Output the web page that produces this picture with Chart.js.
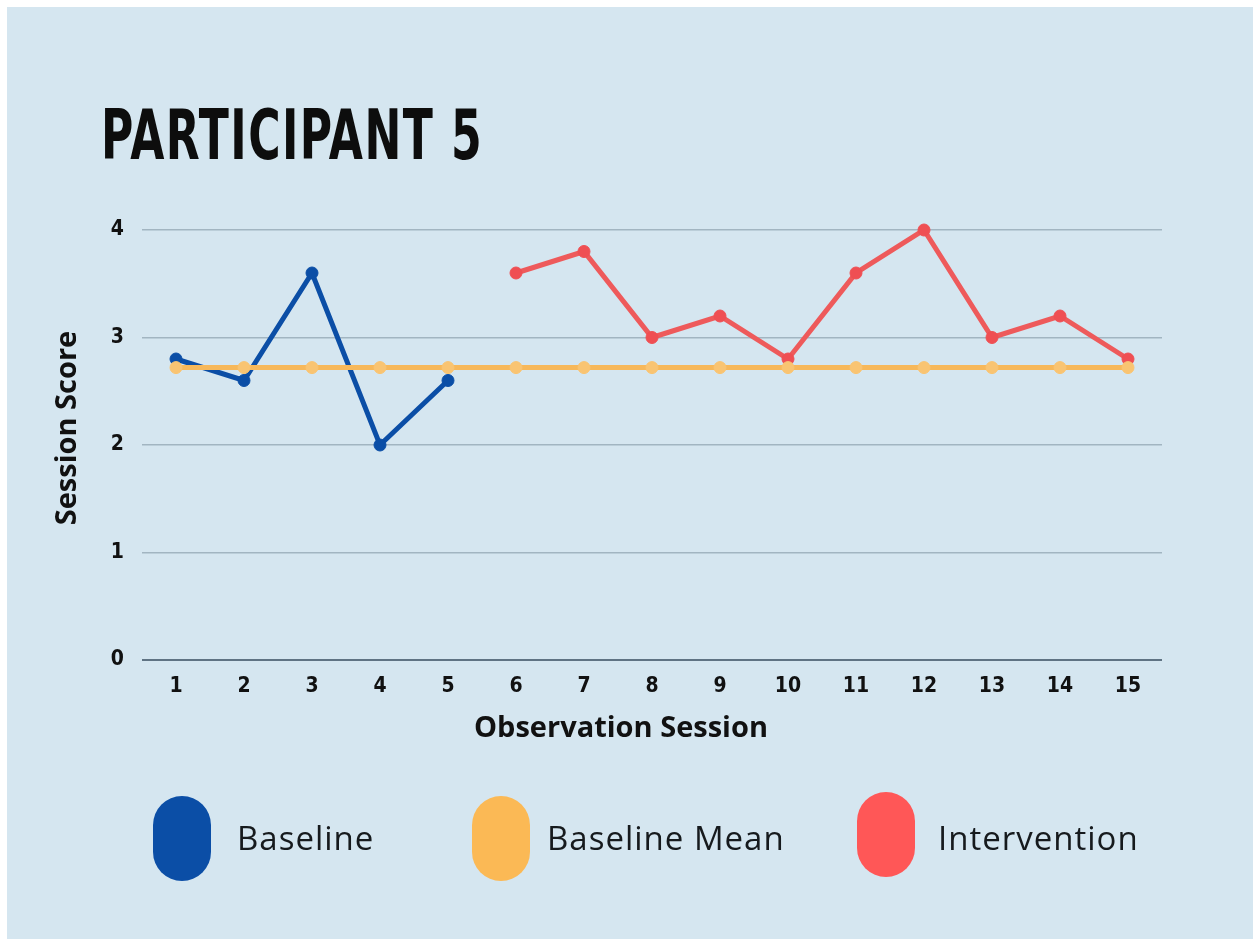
<!DOCTYPE html>
<html>
<head>
<meta charset="utf-8">
<title>Participant 5</title>
<script src="https://cdn.jsdelivr.net/npm/chart.js"></script>
<style>
  html, body { margin: 0; padding: 0; background: #fff; }
  body { width: 1253px; height: 939px; position: relative; overflow: hidden; }
  .panel { position: absolute; left: 7px; top: 7px; right: 0; bottom: 0; background: #d5e6f0; }
  #chart { position: absolute; left: 0; top: 0; }
  .heading {
    position: absolute; left: 101px; top: 100px;
    font: bold 70px/70px "DejaVu Sans Condensed", "DejaVu Sans", sans-serif;
    font-stretch: condensed;
    color: #0d0d0d; white-space: nowrap; letter-spacing: 2px;
    transform: scaleX(0.70); transform-origin: left center;
  }
  .axis-title {
    position: absolute; width: 400px; text-align: center;
    font: 700 29px/36px "Open Sans", sans-serif; color: #111;
  }
  .x-title { left: 421px; top: 708px; }
  .y-title { left: -135px; top: 410px; transform: rotate(-90deg); }
  .legend-item { position: absolute; }
  .legend-item .swatch { position: absolute; width: 58px; height: 85px; border-radius: 29px; }
  .legend-item .label {
    position: absolute; white-space: nowrap;
    font: 400 33px/40px "Open Sans", sans-serif; letter-spacing: 1px; color: #161a1d;
  }
</style>
</head>
<body>
<div class="panel"></div>
<div class="heading">PARTICIPANT 5</div>
<canvas id="chart" width="1253" height="939"></canvas>
<div class="axis-title x-title">Observation Session</div>
<div class="axis-title y-title">Session Score</div>
<div id="legend"></div>

<script>
const sessions = ['1', '2', '3', '4', '5', '6', '7', '8', '9', '10', '11', '12', '13', '14', '15'];
const baselineScores = [2.8, 2.6, 3.6, 2.0, 2.6];            // sessions 1-5
const interventionScores = [3.6, 3.8, 3.0, 3.2, 2.8, 3.6, 4.0, 3.0, 3.2, 2.8]; // sessions 6-15
const baselineMean = 2.72;
const scoreTicks = [0, 1, 2, 3, 4];

const BLUE = '#0b4ea6';
const ORANGE = '#f7b85a';
const RED = '#ee5a5b';

const tickFont = { family: '"DejaVu Sans Condensed", "DejaVu Sans", sans-serif', size: 21, weight: 'bold' };

const baselinePoints = baselineScores.map((v, i) => ({ x: sessions[i], y: v }));
const interventionPoints = interventionScores.map((v, i) => ({ x: sessions[i + baselineScores.length], y: v }));
const meanPoints = sessions.map((s) => ({ x: s, y: baselineMean }));

const lineStyle = {
  borderWidth: 5,
  pointRadius: 6,
  pointBorderWidth: 1,
  tension: 0,
  clip: false,
};

new Chart(document.getElementById('chart'), {
  type: 'line',
  data: {
    labels: sessions,
    datasets: [
      {
        label: 'Baseline', data: baselinePoints, order: 1,
        borderColor: BLUE, backgroundColor: BLUE, pointBorderColor: BLUE, pointBackgroundColor: BLUE,
        ...lineStyle,
      },
      {
        label: 'Baseline Mean', data: meanPoints, order: 0,
        borderColor: ORANGE, backgroundColor: ORANGE, pointBorderColor: '#f9c472', pointBackgroundColor: '#f9c472',
        ...lineStyle,
      },
      {
        label: 'Intervention', data: interventionPoints, order: 2,
        borderColor: RED, backgroundColor: RED, pointBorderColor: '#ef4f53', pointBackgroundColor: '#ef4f53',
        ...lineStyle,
      },
    ],
  },
  options: {
    responsive: false,
    animation: false,
    layout: { padding: { left: 40, top: 230, right: 91, bottom: 219 } },
    plugins: {
      legend: { display: false },
      title: { display: false },
      tooltip: { enabled: false },
    },
    scales: {
      x: {
        type: 'category',
        offset: true,
        grid: { display: false, drawTicks: false },
        border: { display: false },
        ticks: { color: '#111', font: tickFont, padding: 14, maxRotation: 0 },
        afterFit: (scale) => { scale.height = 60; },
      },
      y: {
        min: scoreTicks[0],
        max: scoreTicks[scoreTicks.length - 1],
        afterBuildTicks: (scale) => { scale.ticks = scoreTicks.map((v) => ({ value: v })); },
        grid: {
          drawTicks: false,
          color: (ctx) => (ctx.tick && ctx.tick.value === 0 ? '#5f7383' : '#a2b5c1'),
          lineWidth: (ctx) => (ctx.tick && ctx.tick.value === 0 ? 2 : 1.5),
        },
        border: { display: false },
        ticks: { color: '#111', font: tickFont, padding: 18 },
        afterFit: (scale) => { scale.width = 102; },
      },
    },
  },
});

// legend: tall pill swatch followed by the series name
const legendItems = [
  { label: 'Baseline', color: BLUE, swatchX: 153, swatchY: 796, textX: 237 },
  { label: 'Baseline Mean', color: '#fbb955', swatchX: 472, swatchY: 796, textX: 547 },
  { label: 'Intervention', color: '#ff5757', swatchX: 857, swatchY: 792, textX: 938 },
];
const legend = document.getElementById('legend');
legendItems.forEach((item) => {
  const el = document.createElement('div');
  el.className = 'legend-item';
  const swatch = document.createElement('div');
  swatch.className = 'swatch';
  swatch.style.left = item.swatchX + 'px';
  swatch.style.top = item.swatchY + 'px';
  swatch.style.background = item.color;
  const text = document.createElement('div');
  text.className = 'label';
  text.style.left = item.textX + 'px';
  text.style.top = '818px';
  text.textContent = item.label;
  el.appendChild(swatch);
  el.appendChild(text);
  legend.appendChild(el);
});
</script>
</body>
</html>
